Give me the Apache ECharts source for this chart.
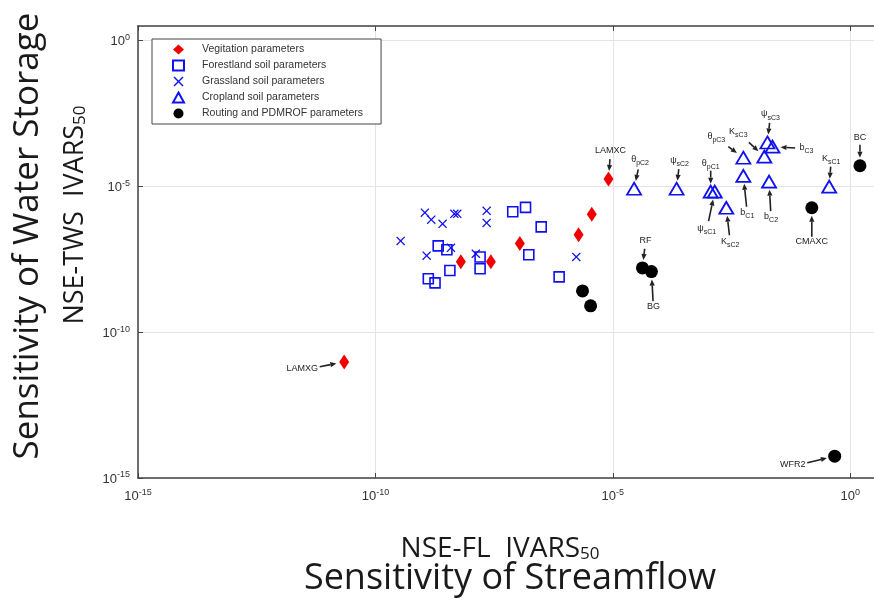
<!DOCTYPE html>
<html>
<head>
<meta charset="utf-8">
<script src="https://cdn.jsdelivr.net/npm/echarts@6/dist/echarts.min.js"></script>
<style>html,body{margin:0;padding:0;background:#fff}#c{width:874px;height:600px}</style>
</head>
<body>
<div id="c"></div>
<script>
// ---- data (x = NSE-FL IVARS50, y = NSE-TWS IVARS50) ----
const seriesNames = ['Vegitation parameters','Forestland soil parameters','Grassland soil parameters','Cropland soil parameters','Routing and PDMROF parameters'];

const vegX = [2.2e-11, 6.3e-9, 2.7e-8, 1.1e-7, 1.9e-6, 3.6e-6, 8.1e-6];
const vegY = [9.5e-12, 2.6e-8, 2.6e-8, 1.1e-7, 2.2e-7, 1.1e-6, 1.8e-5];
const vegLabels = ['LAMXG','','','','','','LAMXC'];

const forX = [2.1e-9, 3.2e-9, 3.7e-9, 1.3e-9, 1.8e-9, 1.6e-8, 1.6e-8, 7.8e-8, 1.45e-7, 3.1e-7, 1.7e-7, 7.4e-7];
const forY = [9.1e-8, 6.7e-8, 1.3e-8, 6.8e-9, 4.9e-9, 3.8e-8, 1.5e-8, 1.35e-6, 1.9e-6, 4.1e-7, 4.5e-8, 7.9e-9];

const graX = [3.4e-10, 1.1e-9, 1.5e-9, 2.6e-9, 4.6e-9, 5.3e-9, 2.2e-8, 2.2e-8, 1.2e-9, 3.9e-9, 1.3e-8, 1.7e-6];
const graY = [1.35e-7, 1.25e-6, 7.2e-7, 5.2e-7, 1.15e-6, 1.15e-6, 1.45e-6, 5.6e-7, 4.2e-8, 7.8e-8, 4.9e-8, 3.8e-8];

const cropX = [2.8e-5, 2.2e-4, 1.15e-3, 1.4e-3, 2.45e-3, 5.6e-3, 5.6e-3, 1.55e-2, 1.95e-2, 1.8e-2, 2.3e-2, 0.36];
const cropY = [8.3e-6, 8.3e-6, 6.6e-6, 6.6e-6, 1.85e-6, 9.6e-5, 2.3e-5, 1.05e-4, 1.45e-5, 3.2e-4, 2.3e-4, 9.8e-6];
const cropLabels = ['θ_pC2','ψ_sC2','θ_pC1','ψ_sC1','K_sC2','θ_pC3','b_C1','K_sC3','b_C2','ψ_sC3','b_C3','K_sC1'];

const routX = [2.3e-6, 3.4e-6, 4.2e-5, 6.5e-5, 0.155, 1.6, 0.47];
const routY = [2.6e-9, 8.0e-10, 1.6e-8, 1.2e-8, 1.85e-6, 5.1e-5, 5.6e-15];
const routLabels = ['','','RF','BG','CMAXC','BC','WFR2'];

// ---- annotation layout (label centre offsets in px from the marker) ----
const annLayout = {
  'LAMXG':[-42,8], 'LAMXC':[2,-27], 'RF':[3,-26], 'BG':[2,36], 'CMAXC':[0,35], 'BC':[0,-27], 'WFR2':[-42,10],
  'θ_pC2':[6,-28], 'ψ_sC2':[3,-27], 'θ_pC1':[0,-27], 'ψ_sC1':[-8,38], 'K_sC2':[4,35],
  'θ_pC3':[-27,-20], 'b_C1':[4,38], 'K_sC3':[-26,-24], 'b_C2':[2,36], 'ψ_sC3':[3,-27], 'b_C3':[34,2], 'K_sC1':[2,-27]
};

function pairs(xs, ys){ return xs.map((x,i)=>[x, ys[i]]); }

const annPoints = [], annTexts = [];
function collect(xs, ys, labels){ labels.forEach((t,i)=>{ if(t){ annPoints.push([xs[i], ys[i]]); annTexts.push(t);} }); }
collect(vegX, vegY, vegLabels);
collect(cropX, cropY, cropLabels);
collect(routX, routY, routLabels);

function richLabel(t){
  const k = t.indexOf('_');
  if (k < 0) return '{m|' + t + '}';
  return '{m|' + t.slice(0,k) + '}{s|' + t.slice(k+1) + '}';
}

const tickFmt = function(v){
  const e = Math.log10(v); const r = Math.round(e);
  if (Math.abs(e - r) > 1e-6 || r % 5 !== 0) return '';
  return '{b|10}{s|' + r + '}';
};
const tickRich = {
  b:{fontSize:13, color:'#333', fontFamily:'Liberation Sans', lineHeight:15, verticalAlign:'bottom'},
  s:{fontSize:9, color:'#333', fontFamily:'Liberation Sans', lineHeight:9, verticalAlign:'top'}
};
const crossPath = 'path://M0,1L1,0L5,4L9,0L10,1L6,5L10,9L9,10L5,6L1,10L0,9L4,5Z';
const blue = '#1010f0';
const titleColor = '#1a1a1a';

const chart = echarts.init(document.getElementById('c'), null, {renderer:'canvas'});
const option = {
  animation:false,
  backgroundColor:'#fff',
  grid:{left:138, top:26, width:743, height:452},
  legend:{
    data:seriesNames, orient:'vertical', left:152, top:39,
    itemWidth:11, itemHeight:10, itemGap:4.5,
    padding:[5,18,5,20],
    borderColor:'#444', borderWidth:1, backgroundColor:'#fff',
    formatter:n=>'{g|}' + n,
    textStyle:{fontSize:10.5, color:'#333', fontFamily:'Liberation Sans', rich:{g:{width:13}}}
  },
  xAxis:[{
    type:'log', logBase:100000, min:1e-15, max:Math.pow(10,0.5), position:'bottom',
    axisLine:{show:true, onZero:false, lineStyle:{color:'#444', width:1.5}},
    axisTick:{show:true, inside:true, length:5, lineStyle:{color:'#444'}},
    axisLabel:{formatter:tickFmt, rich:tickRich, margin:10, showMaxLabel:false},
    splitLine:{show:true, lineStyle:{color:'#e4e4e4', width:1}}
  },{
    type:'log', logBase:100000, min:1e-15, max:Math.pow(10,0.5), position:'top',
    axisLine:{show:true, onZero:false, lineStyle:{color:'#444', width:1.5}},
    axisTick:{show:true, inside:true, length:5, lineStyle:{color:'#444'}},
    axisLabel:{show:false}, splitLine:{show:false}
  }],
  yAxis:[{
    type:'log', logBase:100000, min:1e-15, max:Math.pow(10,0.5), position:'left',
    axisLine:{show:true, onZero:false, lineStyle:{color:'#444', width:1.5}},
    axisTick:{show:true, inside:true, length:5, lineStyle:{color:'#444'}},
    axisLabel:{formatter:tickFmt, rich:tickRich, margin:8, showMaxLabel:false},
    splitLine:{show:true, lineStyle:{color:'#e4e4e4', width:1}}
  }],
  graphic:[
    {type:'text', x:28, y:236, rotation:Math.PI/2,
      style:{text:'Sensitivity of Water Storage', font:'35px "Open Sans"', fill:titleColor, align:'center', verticalAlign:'middle'}},
    {type:'text', x:72, y:215, rotation:Math.PI/2,
      style:{text:'{a|NSE-TWS  IVARS}{b|50}', align:'center', verticalAlign:'middle',
        rich:{a:{font:'27px "Open Sans"', fill:titleColor, lineHeight:34, verticalAlign:'bottom'},
              b:{font:'17px "Open Sans"', fill:titleColor, lineHeight:28, verticalAlign:'bottom'}}}},
    {type:'text', x:500, y:546,
      style:{text:'{a|NSE-FL  IVARS}{b|50}', align:'center', verticalAlign:'middle',
        rich:{a:{font:'28px "Open Sans"', fill:titleColor, lineHeight:34, verticalAlign:'bottom'},
              b:{font:'17px "Open Sans"', fill:titleColor, lineHeight:28, verticalAlign:'bottom'}}}},
    {type:'text', x:510, y:579,
      style:{text:'Sensitivity of Streamflow', font:'36px "Open Sans"', fill:titleColor, align:'center', verticalAlign:'middle'}}
  ],
  series:[
    {name:seriesNames[0], type:'scatter', data:pairs(vegX, vegY), symbol:'diamond', symbolSize:[10,15],
      itemStyle:{color:'#f00000', opacity:1}, z:3},
    {name:seriesNames[1], type:'scatter', data:pairs(forX, forY), symbol:'rect', symbolSize:10,
      itemStyle:{color:'rgba(255,255,255,0)', borderColor:blue, borderWidth:1.6, opacity:1}, z:3},
    {name:seriesNames[2], type:'scatter', data:pairs(graX, graY), symbol:crossPath, symbolSize:9,
      itemStyle:{color:blue, opacity:1}, z:3},
    {name:seriesNames[3], type:'scatter', data:pairs(cropX, cropY), symbol:'triangle', symbolSize:[14,12],
      itemStyle:{color:'rgba(255,255,255,0)', borderColor:blue, borderWidth:1.8, opacity:1}, z:3},
    {name:seriesNames[4], type:'scatter', data:pairs(routX, routY), symbol:'circle', symbolSize:13,
      itemStyle:{color:'#000', opacity:1}, z:3},
    {name:'annotations', type:'custom', data:annPoints, encode:{x:0, y:1}, silent:true, clip:false, z:6,
      renderItem:function(params, api){
        const p = api.coord([api.value(0), api.value(1)]);
        const t = annTexts[params.dataIndex];
        const off = annLayout[t] || [0,-27];
        const lx = p[0] + off[0], ly = p[1] + off[1];
        const d = Math.hypot(off[0], off[1]);
        const ux = off[0]/d, uy = off[1]/d;
        const hw = t.replace('_','').length * 3 + 2;
        const pad = Math.abs(ux) * hw + Math.abs(uy) * 6;
        const tipR = 8;
        const tx = p[0] + ux*tipR, ty = p[1] + uy*tipR;
        const sx = p[0] + ux*(d - pad), sy = p[1] + uy*(d - pad);
        const hl = 6, hwid = 2.6;
        const bx = tx + ux*hl, by = ty + uy*hl;
        const nx = -uy, ny = ux;
        return {type:'group', children:[
          {type:'line', shape:{x1:sx, y1:sy, x2:bx, y2:by}, style:{stroke:'#222', lineWidth:1.6}},
          {type:'polygon', shape:{points:[[tx,ty],[bx+nx*hwid, by+ny*hwid],[bx-nx*hwid, by-ny*hwid]]}, style:{fill:'#222'}},
          {type:'text', x:lx, y:ly, style:{text:richLabel(t), align:'center', verticalAlign:'middle',
            rich:{m:{fontSize:9, fill:'#222', fontFamily:'Liberation Sans', lineHeight:12, verticalAlign:'top'},
                  s:{fontSize:7, fill:'#222', fontFamily:'Liberation Sans', lineHeight:12, verticalAlign:'bottom'}}}}
        ]};
      }
    }
  ]
};
chart.setOption(option);
</script>
</body>
</html>
